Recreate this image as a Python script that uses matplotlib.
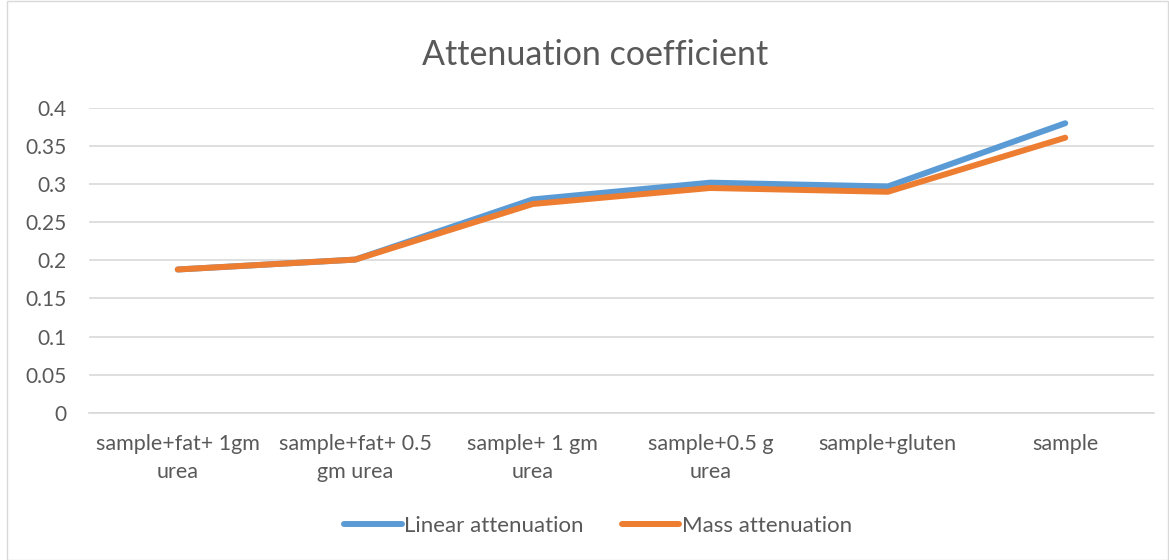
import matplotlib
matplotlib.use("Agg")
import matplotlib.pyplot as plt
from matplotlib.patches import Rectangle

categories = ["sample+fat+ 1gm\nurea", "sample+fat+ 0.5\ngm urea", "sample+ 1 gm\nurea",
              "sample+0.5 g\nurea", "sample+gluten", "sample"]
linear_att = [0.188, 0.201, 0.280, 0.302, 0.297, 0.380]
mass_att = [0.188, 0.201, 0.274, 0.295, 0.290, 0.361]
yticks = [0, 0.05, 0.1, 0.15, 0.2, 0.25, 0.3, 0.35, 0.4]
ytick_labels = ["0", "0.05", "0.1", "0.15", "0.2", "0.25", "0.3", "0.35", "0.4"]

plt.rcParams['font.family'] = ['Lato', 'DejaVu Sans']
txt = '#595959'

fig = plt.figure(figsize=(11.69, 5.6), dpi=100)
ax = fig.add_axes([89/1169, 1-412.7/560, (1154-89)/1169, (412.7-108)/560])

x = list(range(len(categories)))
ax.plot(x, linear_att, color='#5B9BD5', lw=4.3, solid_capstyle='round', solid_joinstyle='round',
        label='Linear attenuation', zorder=3)
ax.plot(x, mass_att, color='#ED7D31', lw=4.3, solid_capstyle='round', solid_joinstyle='round',
        label='Mass attenuation', zorder=4)

ax.set_xlim(-0.5, len(categories)-0.5)
ax.set_ylim(0, 0.4)
ax.set_yticks(yticks)
ax.set_yticklabels(ytick_labels)
ax.set_xticks(x)
ax.set_xticklabels(categories, linespacing=1.5)
ax.tick_params(axis='both', length=0, labelsize=15.5, colors=txt)
ax.tick_params(axis='y', labelsize=15, pad=16)
ax.tick_params(axis='x', pad=15)
ax.grid(axis='y', color='#D9D9D9', lw=1.2)
ax.set_axisbelow(True)
for s in ['top', 'right', 'left']:
    ax.spines[s].set_visible(False)
ax.spines['bottom'].set_color('#D9D9D9')
ax.spines['bottom'].set_linewidth(1.2)

fig.text(595/1169, 1-55/560, "Attenuation coefficient", ha='center', va='center',
         fontsize=24.5, color=txt)

leg = fig.legend(loc='center', bbox_to_anchor=(598/1169, 1-526/560), ncol=2, frameon=False,
                 fontsize=16, handlelength=2.6, handletextpad=0.1, columnspacing=1.7)
for t in leg.get_texts():
    t.set_color(txt)

fig.patches.append(Rectangle((7/1169, 0.5/560), 1161/1169, 558.5/560, transform=fig.transFigure,
                             fill=False, edgecolor='#D9D9D9', lw=1))

fig.savefig('out.png', dpi=100)
